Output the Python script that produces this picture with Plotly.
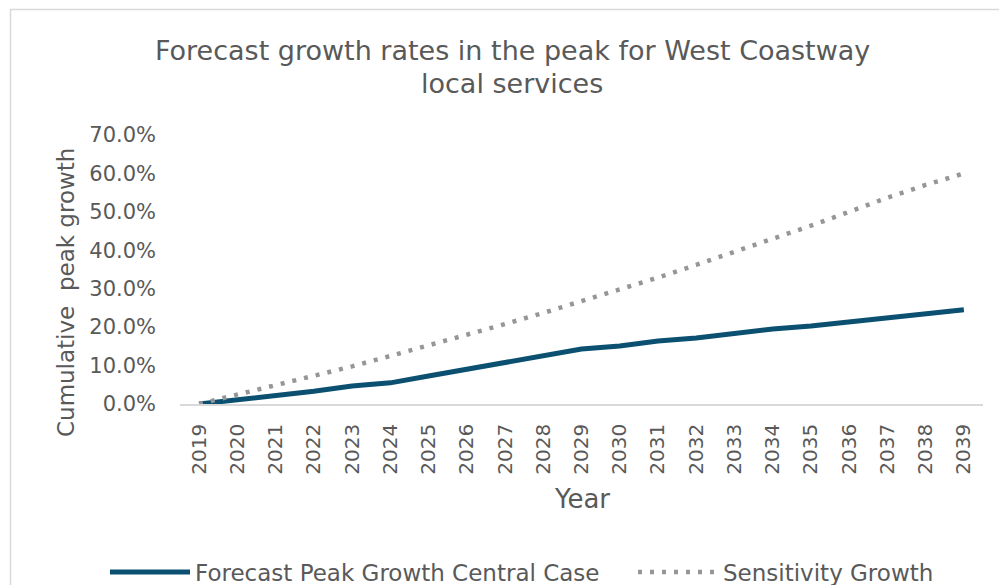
import plotly.graph_objects as go

years = [str(y) for y in range(2019, 2040)]
central = [0.0, 1.0, 2.3, 3.3, 4.7, 5.5, 7.3, 9.1, 10.9, 12.5, 14.3, 15.1, 16.4, 17.2, 18.5, 19.5, 20.3, 21.3, 22.6, 23.4, 24.5]
sensitivity = [0.0, 2.4, 4.8, 7.3, 9.8, 12.5, 15.2, 17.9, 20.8, 23.7, 26.7, 29.8, 32.9, 36.2, 39.5, 42.9, 46.4, 50.0, 53.7, 57.0, 60.0]
y_ticks = [0, 10, 20, 30, 40, 50, 60, 70]
title_lines = ["Forecast growth rates in the peak for West Coastway", "local services"]

xs = list(range(len(years)))
FONT = "DejaVu Sans, Liberation Sans, Arial, sans-serif"
TXT = "#595959"

fig = go.Figure()
fig.add_trace(go.Scatter(x=xs, y=[v / 100 for v in central], mode="lines",
                         name="Forecast Peak Growth Central Case", legend="legend",
                         line=dict(color="#0b5071", width=5)))
fig.add_trace(go.Scatter(x=xs, y=[v / 100 for v in sensitivity], mode="lines",
                         name="Sensitivity Growth", legend="legend2",
                         line=dict(color="#969696", width=4.5, dash="4px,8px")))

L, R, T, B = 180, 16, 135, 181
PW = 999 - L - R
PH = 585 - T - B

def px(x):
    return (x - L) / PW

def py(y):
    return (585 - B - y) / PH

annotations = [
    dict(text=title_lines[0], x=px(512), y=py(50), xref="paper", yref="paper",
         showarrow=False, xanchor="center", yanchor="middle",
         font=dict(size=27, color=TXT, family=FONT)),
    dict(text=title_lines[1], x=px(512), y=py(84), xref="paper", yref="paper",
         showarrow=False, xanchor="center", yanchor="middle",
         font=dict(size=27, color=TXT, family=FONT)),
    dict(text="Cumulative  peak growth", x=px(66), y=py(292), xref="paper", yref="paper",
         textangle=-90, showarrow=False, xanchor="center", yanchor="middle",
         font=dict(size=23, color=TXT, family=FONT)),
    dict(text="Year", x=px(582), y=py(499), xref="paper", yref="paper",
         showarrow=False, xanchor="center", yanchor="middle",
         font=dict(size=26, color=TXT, family=FONT)),
]

leg_common = dict(orientation="h", xanchor="left", y=py(572), yanchor="middle",
                  font=dict(size=23, color=TXT, family=FONT), itemwidth=80,
                  bgcolor="rgba(0,0,0,0)")

fig.update_layout(
    width=999, height=585,
    margin=dict(l=L, r=R, t=T, b=B, autoexpand=False),
    paper_bgcolor="white", plot_bgcolor="white",
    font=dict(family=FONT, color=TXT),
    showlegend=True,
    legend=dict(x=px(105), **leg_common),
    legend2=dict(x=px(633), **leg_common),
    xaxis=dict(range=[-0.5, len(years) - 0.5], tickmode="array", tickvals=xs, ticktext=years,
               tickangle=-90, tickfont=dict(size=20, color=TXT, family=FONT),
               showgrid=False, zeroline=False, showline=True, linecolor="#d9d9d9", linewidth=1.5,
               ticks="", ticklabelstandoff=10, automargin=False, fixedrange=True),
    yaxis=dict(range=[0, 0.7], tickmode="array", tickvals=[v / 100 for v in y_ticks],
               ticktext=[f"{v:.1f}%" for v in y_ticks],
               tickfont=dict(size=21, color=TXT, family=FONT),
               showgrid=False, zeroline=False, showline=False, ticks="",
               ticklabelstandoff=23, automargin=False, fixedrange=True),
    annotations=annotations,
    shapes=[
        dict(type="rect", xref="paper", yref="paper", x0=px(10.5), x1=px(1010), y0=py(600), y1=py(9.5),
             line=dict(color="#d9d9d9", width=1.5), fillcolor="rgba(0,0,0,0)", layer="below"),
    ],
)

fig.write_html("out.html")
